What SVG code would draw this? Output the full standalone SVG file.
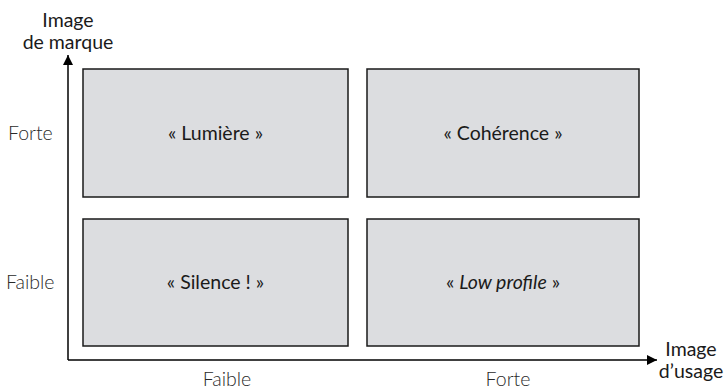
<svg xmlns="http://www.w3.org/2000/svg" width="726" height="390" viewBox="0 0 726 390">
<defs>
<style>
.box{fill:#dcdde0;stroke:#1a1a1a;stroke-width:1.5}
.t{font-family:Lato,"Open Sans",sans-serif;font-size:19.5px;fill:#1a1a1a}
.l{font-weight:300;fill:#2a2a2a}
.c{text-anchor:middle}
.ax{stroke:#000;stroke-width:1.5;fill:none}
</style>
<marker id="ah" viewBox="0 0 10 10" refX="10" refY="5" markerWidth="10" markerHeight="10" markerUnits="userSpaceOnUse" orient="auto">
<path d="M0,0 L10,5 L0,10 Z" fill="#000"/>
</marker>
</defs>
<g id="connectors">
<path class="ax" d="M68,360 L68,55" marker-end="url(#ah)"/>
<path class="ax" d="M68,360 L657,360" marker-end="url(#ah)"/>
</g>
<g id="lumiere"><rect class="box" x="83" y="69" width="265" height="128"/><text class="t c" x="215.5" y="140">« Lumière »</text></g>
<g id="coherence"><rect class="box" x="367" y="69" width="272" height="128"/><text class="t c" x="503" y="140">« Cohérence »</text></g>
<g id="silence"><rect class="box" x="83" y="219" width="265" height="127"/><text class="t c" x="215.5" y="289">« Silence ! »</text></g>
<g id="lowprofile"><rect class="box" x="367" y="219" width="272" height="127"/><text class="t c" x="503" y="289">« <tspan font-style="italic">Low profile</tspan> »</text></g>
<g id="labels">
<text class="t c" x="68" y="27">Image</text>
<text class="t c" x="68" y="49">de marque</text>
<text class="t c" x="691" y="356">Image</text>
<text class="t c" x="691" y="378">d’usage</text>
<text class="t l" x="8" y="140">Forte</text>
<text class="t l" x="6" y="289">Faible</text>
<text class="t c l" x="227" y="386">Faible</text>
<text class="t c l" x="508" y="386">Forte</text>
</g>
</svg>
